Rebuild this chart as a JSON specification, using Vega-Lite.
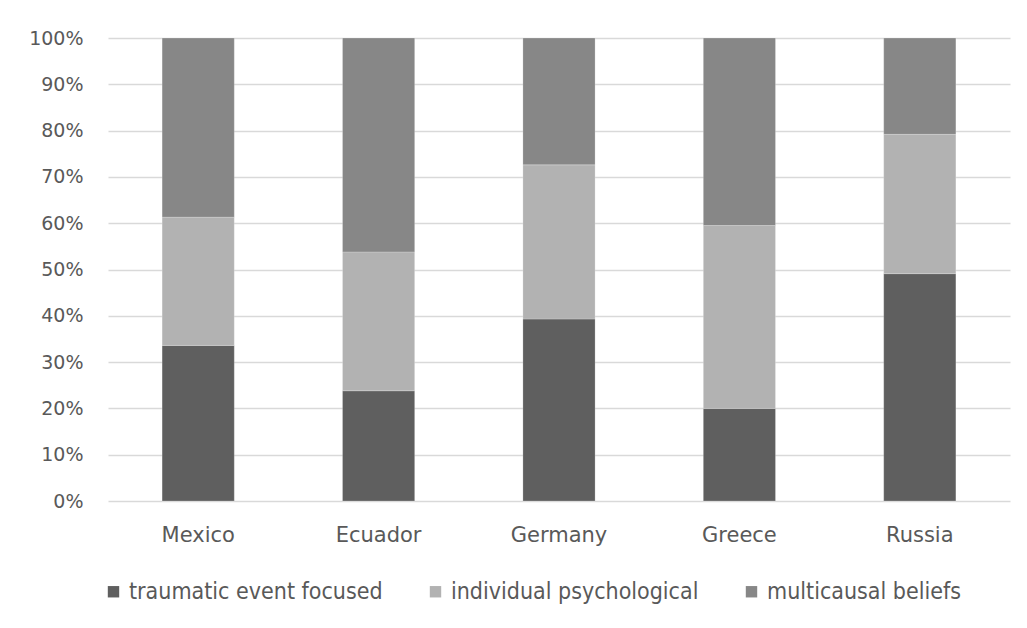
{
  "$schema": "https://vega.github.io/schema/vega-lite/v6.json",
  "width": 902,
  "height": 463,
  "autosize": {"type": "none"},
  "padding": {"left": 108, "top": 38, "right": 17, "bottom": 127},
  "background": "#ffffff",
  "config": {
    "view": {"stroke": null},
    "font": "DejaVu Sans",
    "axis": {"labelColor": "#595959", "labelFont": "DejaVu Sans", "labelFontSize": 19, "domain": false, "ticks": false, "title": null}
  },
  "data": {
    "values": [
      {"country": "Mexico", "belief": "traumatic event focused", "rank": 1, "share": 0.336},
      {"country": "Mexico", "belief": "individual psychological", "rank": 2, "share": 0.277},
      {"country": "Mexico", "belief": "multicausal beliefs", "rank": 3, "share": 0.387},
      {"country": "Ecuador", "belief": "traumatic event focused", "rank": 1, "share": 0.238},
      {"country": "Ecuador", "belief": "individual psychological", "rank": 2, "share": 0.300},
      {"country": "Ecuador", "belief": "multicausal beliefs", "rank": 3, "share": 0.462},
      {"country": "Germany", "belief": "traumatic event focused", "rank": 1, "share": 0.393},
      {"country": "Germany", "belief": "individual psychological", "rank": 2, "share": 0.333},
      {"country": "Germany", "belief": "multicausal beliefs", "rank": 3, "share": 0.274},
      {"country": "Greece", "belief": "traumatic event focused", "rank": 1, "share": 0.200},
      {"country": "Greece", "belief": "individual psychological", "rank": 2, "share": 0.395},
      {"country": "Greece", "belief": "multicausal beliefs", "rank": 3, "share": 0.405},
      {"country": "Russia", "belief": "traumatic event focused", "rank": 1, "share": 0.491},
      {"country": "Russia", "belief": "individual psychological", "rank": 2, "share": 0.301},
      {"country": "Russia", "belief": "multicausal beliefs", "rank": 3, "share": 0.208}
    ]
  },
  "mark": {"type": "bar", "stroke": "#ffffff", "strokeOpacity": 0.35, "strokeWidth": 0.6},
  "encoding": {
    "x": {
      "field": "country",
      "type": "nominal",
      "sort": ["Mexico", "Ecuador", "Germany", "Greece", "Russia"],
      "scale": {"paddingInner": 0.6, "paddingOuter": 0.3},
      "axis": {"labelAngle": 0, "labelPadding": 23, "labelFontSize": 21, "grid": false}
    },
    "y": {
      "field": "share",
      "type": "quantitative",
      "stack": "zero",
      "scale": {"domain": [0, 1], "nice": false},
      "axis": {
        "format": ".0%",
        "values": [0, 0.1, 0.2, 0.3, 0.4, 0.5, 0.6, 0.7, 0.8, 0.9, 1],
        "labelPadding": 25,
        "grid": true,
        "gridColor": "#d9d9d9",
        "gridWidth": 1.5
      }
    },
    "order": {"field": "rank", "type": "quantitative"},
    "color": {
      "field": "belief",
      "type": "nominal",
      "scale": {
        "domain": ["traumatic event focused", "individual psychological", "multicausal beliefs"],
        "range": ["#5f5f5f", "#b2b2b2", "#878787"]
      },
      "legend": {
        "title": null,
        "orient": "none",
        "direction": "horizontal",
        "legendX": -6,
        "legendY": 542,
        "symbolType": "square",
        "symbolSize": 130,
        "symbolStrokeWidth": 0,
        "labelFont": "DejaVu Sans Condensed",
        "labelFontSize": 23,
        "labelColor": "#595959",
        "labelOffset": 4,
        "labelLimit": 0,
        "columnPadding": 41
      }
    }
  }
}
